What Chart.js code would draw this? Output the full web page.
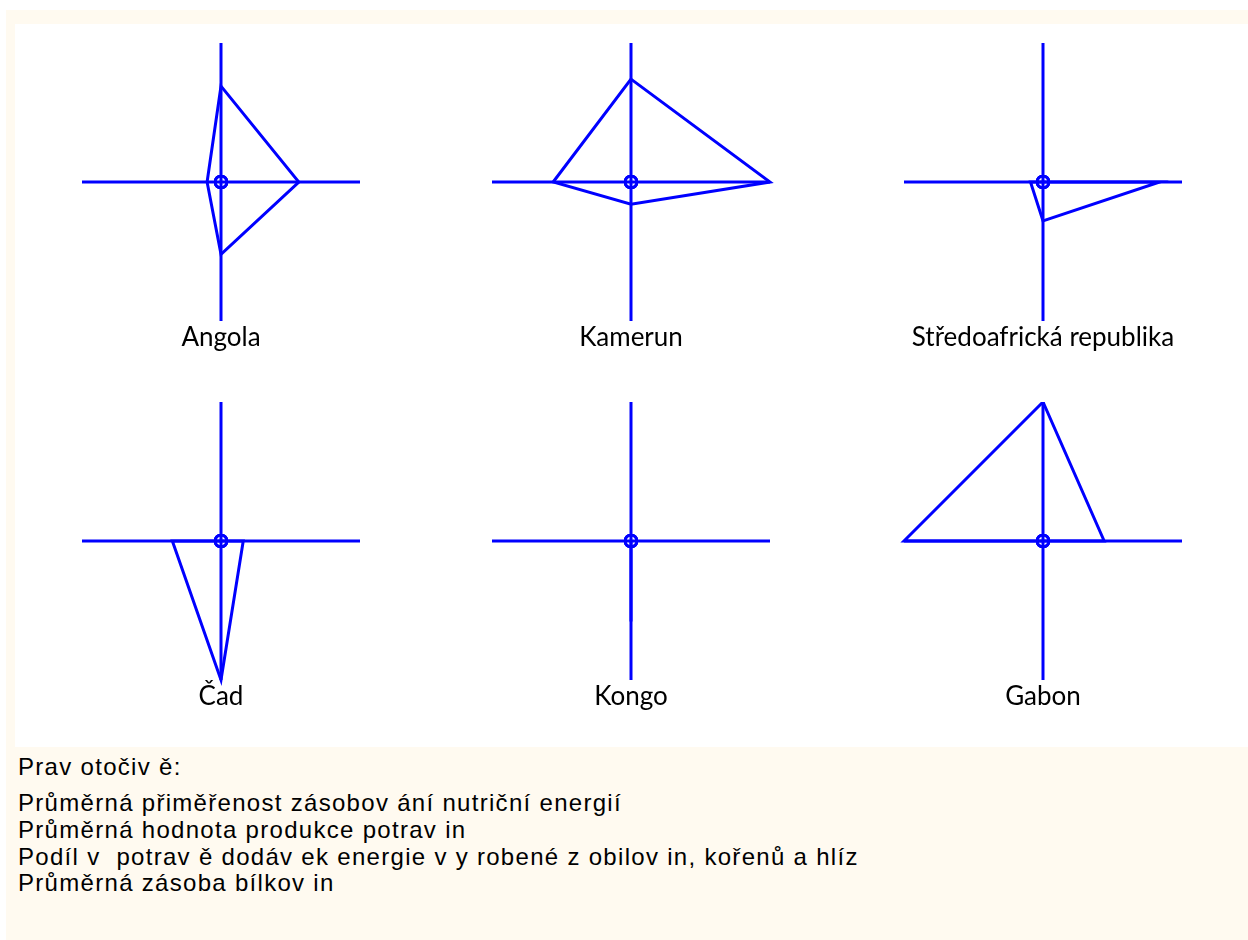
<!DOCTYPE html>
<html>
<head>
<meta charset="utf-8">
<script src="https://cdn.jsdelivr.net/npm/chart.js@4/dist/chart.umd.min.js"></script>
<style>
  html, body { margin: 0; padding: 0; background: #ffffff; overflow: hidden; }
  body { width: 1248px; height: 940px; position: relative; }
  #frame { position: absolute; left: 6px; top: 10px; width: 1242px; height: 930px; background: #FFFAF0; }
  #panel { position: absolute; left: 15px; top: 24px; width: 1233px; height: 723px; background: #ffffff; }
  canvas.star { position: absolute; }
  .leg { position: absolute; left: 18px; font-family: "Liberation Sans", Arial, sans-serif; font-size: 24px;
         letter-spacing: 1.3px; color: #000; white-space: pre; line-height: 27px; }
</style>
</head>
<body>
<div id="frame"></div>
<div id="panel"></div>
<div id="legend"></div>
<script>
// ---- data ----
const countries = ['Angola', 'Kamerun', 'Středoafrická republika', 'Čad', 'Kongo', 'Gabon'];
const variables = [
  'Průměrná přiměřenost zásobování nutriční energií',
  'Průměrná hodnota produkce potravin',
  'Podíl v potravě dodávek energie vyrobené z obilovin, kořenů a hlíz',
  'Průměrná zásoba bílkovin'
];
// values per country, clockwise from the top (scaled 0..1)
const angola  = [0.69, 0.56, 0.52, 0.10];
const kamerun = [0.74, 1.00, 0.16, 0.56];
const car     = [0.00, 0.84, 0.28, 0.09];
const chad    = [0.00, 0.16, 1.00, 0.35];
const congo   = [0.00, 0.00, 0.58, 0.00];
const gabon   = [1.00, 0.44, 0.00, 1.00];
const seriesValues = [angola, kamerun, car, chad, congo, gabon];
const legendTitle = 'Prav otočiv ě:';
const legendLines = [
  'Průměrná přiměřenost zásobov ání nutriční energií',
  'Průměrná hodnota produkce potrav in',
  'Podíl v  potrav ě dodáv ek energie v y robené z obilov in, kořenů a hlíz',
  'Průměrná zásoba bílkov in'
];

// ---- layout ----
const BLUE = '#0000FF';
const centersX = [221, 631, 1043];
const centersY = [182, 541];
const CW = 400, CH = 314;

countries.forEach((name, i) => {
  const cx = centersX[i % 3], cy = centersY[Math.floor(i / 3)];
  const cv = document.createElement('canvas');
  cv.className = 'star';
  cv.width = CW; cv.height = CH;
  cv.style.left = (cx - CW / 2) + 'px';
  cv.style.top = (cy - 139) + 'px';
  cv.style.width = CW + 'px'; cv.style.height = CH + 'px';
  document.body.appendChild(cv);
  new Chart(cv, {
    type: 'radar',
    data: {
      labels: variables,
      datasets: [
        {
          data: seriesValues[i],
          borderColor: BLUE, borderWidth: 3, fill: false,
          pointRadius: 0, pointHoverRadius: 0, tension: 0
        },
        {
          data: variables.map(() => 0),
          showLine: false, borderColor: BLUE,
          pointRadius: 6, pointBorderWidth: 2.5, pointBorderColor: BLUE,
          pointBackgroundColor: 'rgba(0,0,0,0)', pointHoverRadius: 6
        }
      ]
    },
    options: {
      responsive: false, animation: false,
      devicePixelRatio: 1,
      layout: { padding: 0 },
      plugins: {
        legend: { display: false },
        tooltip: { enabled: false },
        title: {
          display: true, text: name, position: 'bottom', color: '#000',
          font: { family: 'Lato', size: 26, weight: 'normal', lineHeight: 1.2 },
          padding: { top: 0, bottom: 4 }
        }
      },
      scales: {
        r: {
          min: 0, max: 1,
          angleLines: { display: true, color: BLUE, lineWidth: 3 },
          grid: { display: false },
          ticks: { display: false },
          pointLabels: { display: false }
        }
      }
    }
  });
});

// ---- legend text ----
const legend = document.getElementById('legend');
const tops = [753, 789, 816, 843, 869];
[legendTitle].concat(legendLines).forEach((t, k) => {
  const d = document.createElement('div');
  d.className = 'leg';
  d.style.top = tops[k] + 'px';
  d.textContent = t;
  legend.appendChild(d);
});
</script>
</body>
</html>
